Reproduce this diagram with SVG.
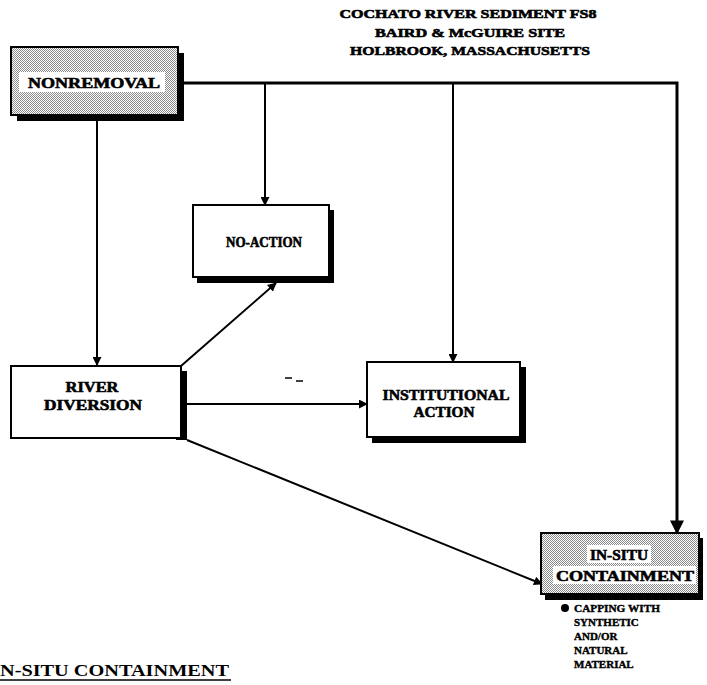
<svg xmlns="http://www.w3.org/2000/svg" width="707" height="685" viewBox="0 0 707 685">
  <style>
    .box { fill: #ffffff; stroke: #000000; stroke-width: 2; }
    .hatch { fill: url(#dither); stroke: #000000; stroke-width: 2; }
    .shadow { fill: #000000; }
    .band { fill: #ffffff; }
    .label { font-family: "Liberation Serif", "DejaVu Serif", serif; font-weight: bold; font-size: 15px; fill: #000000; stroke: #000000; stroke-width: 0.6; text-anchor: middle; }
    .title { font-family: "Liberation Serif", "DejaVu Serif", serif; font-weight: bold; font-size: 13px; fill: #000000; stroke: #000000; stroke-width: 0.6; text-anchor: middle; }
    .note { font-family: "Liberation Serif", "DejaVu Serif", serif; font-weight: bold; font-size: 11px; fill: #000000; stroke: #000000; stroke-width: 0.4; }
    .heading { font-family: "Liberation Serif", "DejaVu Serif", serif; font-weight: bold; font-size: 16px; fill: #000000; }
    .wire { fill: none; stroke: #000000; stroke-width: 2; }
    .thick { fill: none; stroke: #000000; stroke-width: 3; }
  </style>
  <defs>
    <pattern id="dither" width="2" height="2" patternUnits="userSpaceOnUse">
      <rect width="2" height="2" fill="#ffffff"/>
      <rect x="0" y="0" width="1" height="1" fill="#8a8a8a"/>
      <rect x="1" y="1" width="1" height="1" fill="#8a8a8a"/>
    </pattern>
    <marker id="arrow" viewBox="0 0 10 10" refX="9" refY="5" markerWidth="9" markerHeight="9" markerUnits="userSpaceOnUse" orient="auto">
      <path d="M0,0 L10,5 L0,10 z" fill="#000000"/>
    </marker>
    <marker id="bigarrow" viewBox="0 0 10 10" refX="9" refY="5" markerWidth="14" markerHeight="14" markerUnits="userSpaceOnUse" orient="auto">
      <path d="M0,0 L10,5 L0,10 z" fill="#000000"/>
    </marker>
  </defs>

  <rect width="707" height="685" fill="#ffffff"/>

  <!-- site heading -->
  <g id="title">
    <text class="title" x="468" y="18" textLength="257" lengthAdjust="spacingAndGlyphs">COCHATO RIVER SEDIMENT FS8</text>
    <text class="title" x="470" y="37" textLength="190" lengthAdjust="spacingAndGlyphs">BAIRD &amp; McGUIRE SITE</text>
    <text class="title" x="470" y="55" textLength="240" lengthAdjust="spacingAndGlyphs">HOLBROOK, MASSACHUSETTS</text>
  </g>

  <!-- connectors -->
  <g id="connectors">
    <path class="thick" d="M178,83 H677 V533" marker-end="url(#bigarrow)"/>
    <line class="wire" x1="265" y1="83" x2="265" y2="205" marker-end="url(#arrow)"/>
    <line class="wire" x1="453" y1="83" x2="453" y2="362" marker-end="url(#arrow)"/>
    <line class="wire" x1="97" y1="120" x2="97" y2="365" marker-end="url(#arrow)"/>
    <line class="wire" x1="181" y1="366" x2="276" y2="283" marker-end="url(#arrow)"/>
    <line class="wire" x1="187" y1="404" x2="367" y2="404" marker-end="url(#arrow)"/>
    <line class="wire" x1="187" y1="440" x2="542" y2="584" marker-end="url(#arrow)"/>
    <line x1="285" y1="378" x2="292" y2="378" stroke="#000000" stroke-width="1.5"/>
    <line x1="296" y1="381" x2="303" y2="381" stroke="#000000" stroke-width="1.5"/>
  </g>

  <!-- nonremoval -->
  <g id="nonremoval">
    <rect class="shadow" x="17" y="53" width="167" height="68"/>
    <rect class="hatch" x="11" y="47" width="167" height="68"/>
    <rect class="band" x="19" y="72" width="146" height="20"/>
    <text class="label" x="94" y="88" textLength="132" lengthAdjust="spacingAndGlyphs">NONREMOVAL</text>
  </g>

  <!-- no-action -->
  <g id="no-action">
    <rect class="shadow" x="197" y="210" width="137" height="73"/>
    <rect class="box" x="193" y="205" width="136" height="72"/>
    <text class="label" x="264" y="247" textLength="76" lengthAdjust="spacingAndGlyphs">NO-ACTION</text>
  </g>

  <!-- river diversion -->
  <g id="river-diversion">
    <rect class="shadow" x="176" y="371" width="11" height="69"/>
    <rect class="box" x="11" y="366" width="170" height="72"/>
    <text class="label" x="92" y="392" textLength="53" lengthAdjust="spacingAndGlyphs">RIVER</text>
    <text class="label" x="93" y="410" textLength="98" lengthAdjust="spacingAndGlyphs">DIVERSION</text>
  </g>

  <!-- institutional action -->
  <g id="institutional-action">
    <rect class="shadow" x="372" y="367" width="154" height="76"/>
    <rect class="box" x="367" y="362" width="153" height="75"/>
    <text class="label" x="446" y="400" textLength="127" lengthAdjust="spacingAndGlyphs">INSTITUTIONAL</text>
    <text class="label" x="444" y="417" textLength="61" lengthAdjust="spacingAndGlyphs">ACTION</text>
  </g>

  <!-- in-situ containment -->
  <g id="in-situ-containment">
    <rect class="shadow" x="545" y="538" width="158" height="62"/>
    <rect class="hatch" x="541" y="533" width="158" height="61"/>
    <rect class="band" x="587" y="545" width="64" height="18"/>
    <rect class="band" x="553" y="566" width="143" height="18"/>
    <text class="label" x="619" y="560" textLength="58" lengthAdjust="spacingAndGlyphs">IN-SITU</text>
    <text class="label" x="625" y="581" textLength="138" lengthAdjust="spacingAndGlyphs">CONTAINMENT</text>
  </g>

  <!-- capping note -->
  <g id="capping-note">
    <circle cx="565" cy="608" r="4" fill="#000000"/>
    <text class="note" x="574" y="612" textLength="86" lengthAdjust="spacingAndGlyphs">CAPPING WITH</text>
    <text class="note" x="574" y="626">SYNTHETIC</text>
    <text class="note" x="574" y="640">AND/OR</text>
    <text class="note" x="574" y="654">NATURAL</text>
    <text class="note" x="574" y="668">MATERIAL</text>
  </g>

  <!-- section heading -->
  <g id="section-heading">
    <text class="heading" x="0" y="676" textLength="229" lengthAdjust="spacingAndGlyphs">N-SITU CONTAINMENT</text>
    <line x1="0" y1="680" x2="231" y2="680" stroke="#000000" stroke-width="1.5"/>
  </g>
</svg>
